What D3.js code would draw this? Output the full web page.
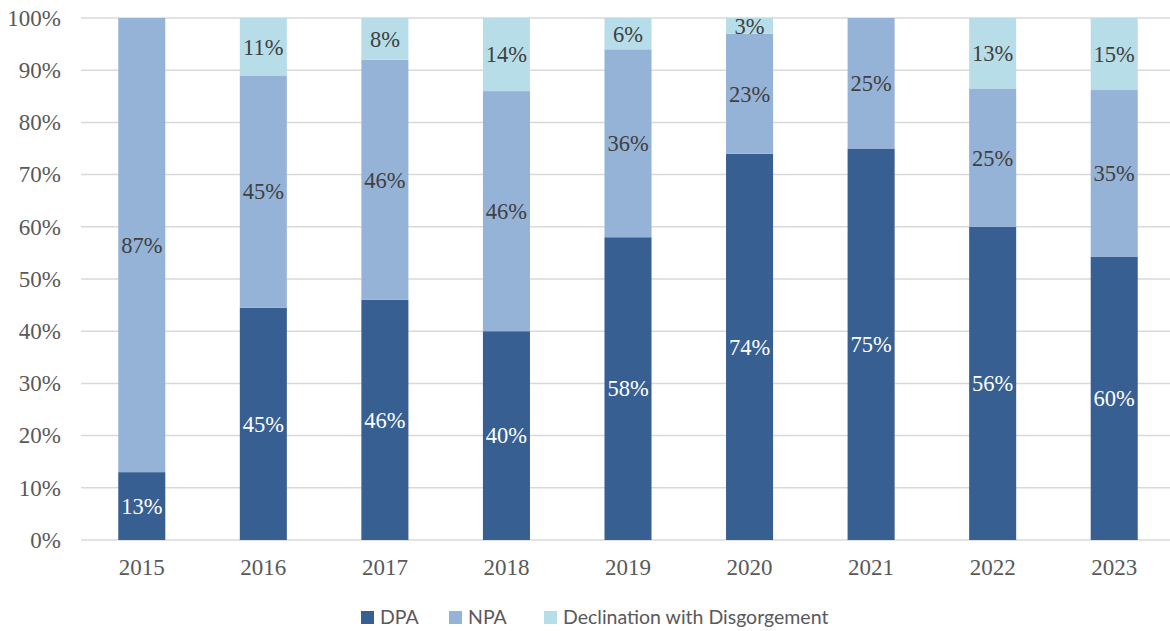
<!DOCTYPE html>
<html>
<head>
<meta charset="utf-8">
<script src="https://cdn.jsdelivr.net/npm/d3@7"></script>
<style>
  body { margin: 0; background: #fff; overflow: hidden; }
  .tick text { font-family: "Liberation Serif", "Times New Roman", serif; }
</style>
</head>
<body>
<div id="chart"></div>
<script>
// categories and series (bar heights)
const years = ["2015", "2016", "2017", "2018", "2019", "2020", "2021", "2022", "2023"];
const seriesNames = ["DPA", "NPA", "Declination with Disgorgement"];
const dpa = [13, 44.5, 46, 40, 58, 74, 75, 60, 54.3];
const npa = [87, 44.5, 46, 46, 36, 23, 25, 26.5, 31.9];
const decl = [0, 11, 8, 14, 6, 3, 0, 13.5, 13.8];
// printed labels (as shown on the chart)
const dpaLabels = ["13%", "45%", "46%", "40%", "58%", "74%", "75%", "56%", "60%"];
const npaLabels = ["87%", "45%", "46%", "46%", "36%", "23%", "25%", "25%", "35%"];
const declLabels = ["", "11%", "8%", "14%", "6%", "3%", "", "13%", "15%"];
const yTicks = [0, 10, 20, 30, 40, 50, 60, 70, 80, 90, 100];

const w = 1170;
const h = 631;
const colors = ["#375F91", "#95B3D7", "#B7DEE8"];
const labelColors = ["#ffffff", "#404040", "#404040"];

const svg = d3.select("#chart").append("svg")
    .attr("width", w)
    .attr("height", h);

const xScale = d3.scaleBand()
    .domain(years)
    .range([81, 1175])
    .paddingInner(0.613)
    .paddingOuter(0.3065);

const yScale = d3.scaleLinear()
    .domain([0, 100])
    .range([540, 18]);

// gridlines
svg.append("g")
    .selectAll("line")
    .data(yTicks)
    .enter()
    .append("line")
    .attr("x1", 81)
    .attr("x2", w)
    .attr("y1", d => yScale(d))
    .attr("y2", d => yScale(d))
    .attr("stroke", "#D9D9D9")
    .attr("stroke-width", 1.5);

// stacked data
const table = years.map((y, i) => ({
    year: y,
    "DPA": dpa[i],
    "NPA": npa[i],
    "Declination with Disgorgement": decl[i]
}));
const labels = [dpaLabels, npaLabels, declLabels];
const stacked = d3.stack().keys(seriesNames)(table);

const layers = svg.selectAll("g.layer")
    .data(stacked)
    .enter()
    .append("g")
    .attr("class", "layer")
    .attr("fill", (d, i) => colors[i]);

layers.selectAll("rect")
    .data(d => d)
    .enter()
    .append("rect")
    .attr("x", d => xScale(d.data.year))
    .attr("width", xScale.bandwidth())
    .attr("y", d => yScale(d[1]))
    .attr("height", d => yScale(d[0]) - yScale(d[1]));

// data labels
stacked.forEach((layer, k) => {
    svg.append("g")
        .selectAll("text")
        .data(layer)
        .enter()
        .append("text")
        .attr("x", d => xScale(d.data.year) + xScale.bandwidth() / 2)
        .attr("y", d => yScale((d[0] + d[1]) / 2))
        .attr("dy", "0.35em")
        .attr("text-anchor", "middle")
        .style("font-family", "'Liberation Serif', 'Times New Roman', serif")
        .style("font-size", "22.5px")
        .attr("fill", labelColors[k])
        .text((d, i) => labels[k][i]);
});

// axes
const xAxis = d3.axisBottom(xScale).tickSize(0).tickPadding(19);
const yAxis = d3.axisLeft(yScale).tickValues(yTicks).tickSize(0).tickPadding(20)
    .tickFormat(d => d + "%");

svg.append("g")
    .attr("transform", "translate(0,540)")
    .call(xAxis)
    .call(g => g.select(".domain").remove())
    .selectAll("text")
    .style("font-size", "23px")
    .attr("fill", "#595959");

svg.append("g")
    .attr("transform", "translate(81,0)")
    .call(yAxis)
    .call(g => g.select(".domain").remove())
    .selectAll("text")
    .style("font-size", "23px")
    .attr("fill", "#595959");

// legend
const legendX = [361, 449, 544];
const legend = svg.append("g");
seriesNames.forEach((name, i) => {
    legend.append("rect")
        .attr("x", legendX[i])
        .attr("y", 611)
        .attr("width", 13)
        .attr("height", 13)
        .attr("fill", colors[i]);
    legend.append("text")
        .attr("x", legendX[i] + 19)
        .attr("y", 617)
        .attr("dy", "0.35em")
        .style("font-family", "Lato, 'Open Sans', sans-serif")
        .style("font-size", "19.5px")
        .attr("fill", "#595959")
        .text(name);
});
</script>
</body>
</html>
